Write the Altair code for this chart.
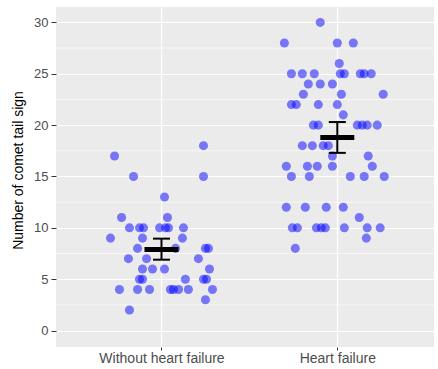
import altair as alt
import pandas as pd

# ---------------- data ----------------
group_labels = ["Without heart failure", "Heart failure"]

# Without heart failure: counts and horizontal jitter (in category units)
no_hf_values = [17, 18, 15, 15, 13, 11, 11,
                10, 10, 10, 10, 10, 10, 10,
                9, 9, 9, 8, 8, 8, 8, 7, 7, 7,
                6, 6, 6, 6, 5, 5, 5, 5, 5,
                4, 4, 4, 4, 4, 4, 4, 4, 3, 2]
no_hf_jitter = [-0.267, 0.239, -0.159, 0.239, 0.017, -0.227, 0.034,
                -0.182, -0.125, -0.102, -0.011, 0.023, 0.040, 0.125,
                -0.290, -0.108, 0.119, -0.136, 0.080, 0.250, 0.267, -0.188, -0.085, 0.210,
                -0.108, -0.051, 0.017, 0.273, -0.125, -0.108, 0.136, 0.239, 0.256,
                -0.239, -0.136, -0.068, 0.051, 0.068, 0.097, 0.153, 0.290, 0.250, -0.182]

# Heart failure
hf_values = [30, 28, 28, 28, 26,
             25, 25, 25, 25, 25, 25, 25, 25,
             24, 24, 24, 23, 23, 23,
             22, 22, 22, 22, 21,
             20, 20, 20, 20, 20, 20,
             18, 18, 18, 18, 17, 17,
             16, 16, 16, 16, 16,
             15, 15, 15, 15, 15,
             12, 12, 12, 12, 11,
             10, 10, 10, 10, 10, 10, 10, 10, 9, 8]
hf_jitter = [-0.097, -0.301, 0.000, 0.091, 0.011,
             -0.261, -0.199, -0.131, 0.017, 0.040, 0.131, 0.153, 0.193,
             -0.165, -0.097, -0.028, -0.193, 0.023, 0.261,
             -0.261, -0.233, -0.108, 0.000, 0.034,
             -0.136, -0.108, 0.114, 0.142, 0.170, 0.227,
             -0.199, -0.142, -0.080, -0.051, -0.028, 0.176,
             -0.290, -0.170, -0.114, -0.028, 0.199,
             -0.261, -0.159, 0.074, 0.153, 0.267,
             -0.290, -0.182, -0.063, 0.034, 0.125,
             -0.256, -0.227, -0.119, -0.091, -0.068, 0.040, 0.170, 0.244, 0.165, -0.239]

# summary (mean and error bar) per group
summary_pos = [1, 2]
summary_mean = [7.9, 18.8]
summary_low = [6.9, 17.3]
summary_high = [8.95, 20.3]

y_ticks = [0, 5, 10, 15, 20, 25, 30]
y_minor = [2.5, 7.5, 12.5, 17.5, 22.5, 27.5]

# ---------------- tables ----------------
pts = pd.DataFrame({
    "pos": [1 + j for j in no_hf_jitter] + [2 + j for j in hf_jitter],
    "count": no_hf_values + hf_values,
})
summ = pd.DataFrame({"pos": summary_pos, "mean": summary_mean,
                     "low": summary_low, "high": summary_high})
minor = pd.DataFrame({"v": y_minor})

xscale = alt.Scale(domain=[0.4, 2.55], nice=False, zero=False)
yscale = alt.Scale(domain=[-1.6, 31.5], nice=False, zero=False)

label_expr = "datum.value == 1 ? '%s' : '%s'" % (group_labels[0], group_labels[1])

xaxis = alt.Axis(values=[1, 2], labelExpr=label_expr, title=None, grid=True,
                 gridColor="white", gridWidth=1.2, domain=False,
                 tickSize=3, tickColor="#333333", labelPadding=1,
                 labelFontSize=14, labelColor="#4D4D4D", labelFont="Liberation Sans")
yaxis = alt.Axis(values=y_ticks, title="Number of comet tail sign", grid=True,
                 gridColor="white", gridWidth=1.2, domain=False,
                 tickSize=5, tickColor="#333333", labelPadding=3,
                 labelFontSize=13, labelColor="#4D4D4D", labelFont="Liberation Sans",
                 titleFont="Liberation Sans", titleFontSize=14, titleFontWeight="normal",
                 titleColor="black", titleX=-38, titleY=163, titleBaseline="middle",
                 titleAlign="center", titleAngle=270)

X = lambda f: alt.X(f, scale=xscale, axis=xaxis)
Y = lambda f: alt.Y(f, scale=yscale, axis=yaxis)

minor_grid = alt.Chart(minor).mark_rule(color="white", strokeWidth=0.6).encode(
    y=Y("v:Q"))

points = alt.Chart(pts).mark_circle(size=82, color="#0000FF", opacity=0.5).encode(
    x=X("pos:Q"), y=Y("count:Q"))

err = alt.Chart(summ).mark_rule(color="black", strokeWidth=2).encode(
    x=X("pos:Q"), y=Y("low:Q"), y2="high:Q")
cap_hi = alt.Chart(summ).mark_tick(color="black", orient="horizontal", size=17,
                                   thickness=2, opacity=1).encode(
    x=X("pos:Q"), y=Y("high:Q"))
cap_lo = alt.Chart(summ).mark_tick(color="black", orient="horizontal", size=17,
                                   thickness=2, opacity=1).encode(
    x=X("pos:Q"), y=Y("low:Q"))
mean_bar = alt.Chart(summ).mark_tick(color="black", orient="horizontal", size=34,
                                     thickness=5, opacity=1).encode(
    x=X("pos:Q"), y=Y("mean:Q"))

chart = alt.layer(minor_grid, points, err, cap_hi, cap_lo, mean_bar).properties(
    width=378, height=340,
    autosize=alt.AutoSizeParams(type="none"),
    padding={"left": 56, "top": 7, "right": 4, "bottom": 22},
    background="white",
).configure_view(fill="#EBEBEB", stroke=None)

chart.save("out.html", embed_options={"renderer": "svg", "actions": False})
